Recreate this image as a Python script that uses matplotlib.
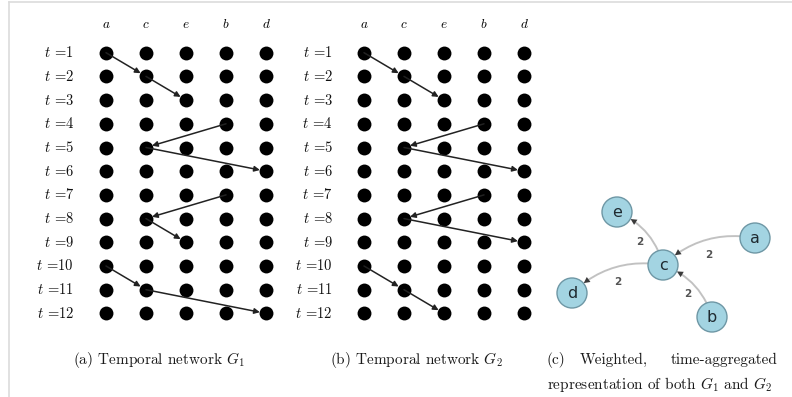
import matplotlib
matplotlib.use("Agg")
import matplotlib.pyplot as plt
from matplotlib.patches import Circle, FancyArrowPatch
from matplotlib.lines import Line2D

plt.rcParams['mathtext.fontset'] = 'cm'

# ---------------- data ----------------
node_order = ['a', 'c', 'e', 'b', 'd']
times = list(range(1, 13))

edges_g1_src = ['a', 'c', 'b', 'c', 'b', 'c', 'a', 'c']
edges_g1_dst = ['c', 'e', 'c', 'd', 'c', 'e', 'c', 'd']
edges_g1_t = [1, 2, 4, 5, 7, 8, 10, 11]

edges_g2_src = ['a', 'c', 'b', 'c', 'b', 'c', 'a', 'c']
edges_g2_dst = ['c', 'e', 'c', 'd', 'c', 'd', 'c', 'e']
edges_g2_t = [1, 2, 4, 5, 7, 8, 10, 11]

agg_nodes = ['e', 'a', 'c', 'd', 'b']
agg_src = ['c', 'a', 'c', 'b']
agg_dst = ['e', 'c', 'd', 'c']
agg_weight = [2, 2, 2, 2]

captions = [r"(a) Temporal network $G_1$", r"(b) Temporal network $G_2$"]

# ---------------- figure ----------------
W, H = 792, 397
fig = plt.figure(figsize=(W / 100, H / 100), dpi=100)
fig.patch.set_facecolor('white')


def px_axes(x0, y0, x1, y1):
    """axes spanning pixel box (top-left origin)"""
    return fig.add_axes([x0 / W, 1 - y1 / H, (x1 - x0) / W, (y1 - y0) / H])


# frame lines (light gray top and left borders)
fig.add_artist(Line2D([9 / W, 1], [1 - 2 / H, 1 - 2 / H], color='#dcdcdc', lw=1.2))
fig.add_artist(Line2D([9 / W, 9 / W], [0, 1 - 2 / H], color='#dcdcdc', lw=1.2))


def temporal_panel(col0_px, srcs, dsts, ts, label_x):
    colstep = 40.0
    rowstep = 23.7
    row1 = 52.7
    x0 = col0_px - 0.5 * colstep
    x1 = col0_px + 4.5 * colstep
    y0 = row1 - 0.5 * rowstep
    y1 = row1 + 11.5 * rowstep
    ax = px_axes(x0, y0, x1, y1)
    ax.set_xlim(-0.5, 4.5)
    ax.set_ylim(12.5, 0.5)
    ax.axis('off')
    xs = [i for t in times for i in range(len(node_order))]
    ys = [t for t in times for i in range(len(node_order))]
    ax.scatter(xs, ys, s=100, color='black', zorder=3, linewidths=0)
    for i, n in enumerate(node_order):
        ax.text(i, -0.2, f"${n}$", ha='center', va='center', fontsize=9.5,
                clip_on=False)
    for t in times:
        ax.text(label_x, t, r"$t$ =%d" % t, ha='right', va='center',
                fontsize=10.5, family='cmr10', color='#111111', clip_on=False)
    for s, d, t in zip(srcs, dsts, ts):
        xi = node_order.index(s)
        xj = node_order.index(d)
        ax.annotate('', xy=(xj, t + 1), xytext=(xi, t),
                    arrowprops=dict(arrowstyle='-|>', color='#222222', lw=1.1,
                                    shrinkA=0, shrinkB=4.5, mutation_scale=8),
                    zorder=4)
    return ax


temporal_panel(106, edges_g1_src, edges_g1_dst, edges_g1_t, -0.8)
temporal_panel(364, edges_g2_src, edges_g2_dst, edges_g2_t, -0.78)

# ---------------- aggregated panel ----------------
cx0, cy0, cx1, cy1 = 540, 180, 792, 340
axc = px_axes(cx0, cy0, cx1, cy1)
axc.set_xlim(cx0, cx1)
axc.set_ylim(cy1, cy0)
axc.axis('off')

layout = {'e': (617, 212), 'a': (755, 238), 'c': (663, 265),
          'd': (572, 293), 'b': (712, 317)}
radius = 15

for n in agg_nodes:
    x, y = layout[n]
    axc.add_patch(Circle((x, y), radius, facecolor='#a3d4e2', edgecolor='#6e97a5',
                         lw=1.0, zorder=3))
    axc.text(x, y + 0.5, n, ha='center', va='center', fontsize=11.5,
             color='#1f2a30', family='DejaVu Sans', zorder=4)

for s, d, w in zip(agg_src, agg_dst, agg_weight):
    p1 = layout[s]
    p2 = layout[d]
    arr = FancyArrowPatch(p1, p2, connectionstyle='arc3,rad=0.25',
                          arrowstyle='-', color='#c4c4c4', lw=1.4,
                          shrinkA=11, shrinkB=14, zorder=2)
    axc.add_patch(arr)
    head = FancyArrowPatch(p1, p2, connectionstyle='arc3,rad=0.25',
                           arrowstyle='-|>', mutation_scale=11,
                           color='#3a3a3a', lw=0.3, shrinkA=11, shrinkB=11,
                           zorder=2.5)
    head.set_linewidth(0.01)
    axc.add_patch(head)
    mx = (p1[0] + p2[0]) / 2
    my = (p1[1] + p2[1]) / 2
    axc.text(mx, my + 3, str(w), ha='center', va='center', fontsize=7.5,
             color='#555555', fontweight='bold', family='DejaVu Sans')

# ---------------- captions ----------------
cap_font = dict(family='cmr10', fontsize=11, va='center', color='#1a1a1a')
fig.text(73 / W, 1 - 360 / H, captions[0], ha='left', **cap_font)
fig.text(330 / W, 1 - 360 / H, captions[1], ha='left', **cap_font)
fig.text(547 / W, 1 - 360 / H, "(c)", ha='left', **cap_font)
fig.text(580 / W, 1 - 360 / H, "Weighted,", ha='left', **cap_font)
fig.text(778 / W, 1 - 360 / H, "time-aggregated", ha='right', **cap_font)
fig.text(547 / W, 1 - 384 / H, r"representation of both $G_1$ and $G_2$",
         ha='left', **cap_font)

fig.savefig('out.png', dpi=100, facecolor='white')
